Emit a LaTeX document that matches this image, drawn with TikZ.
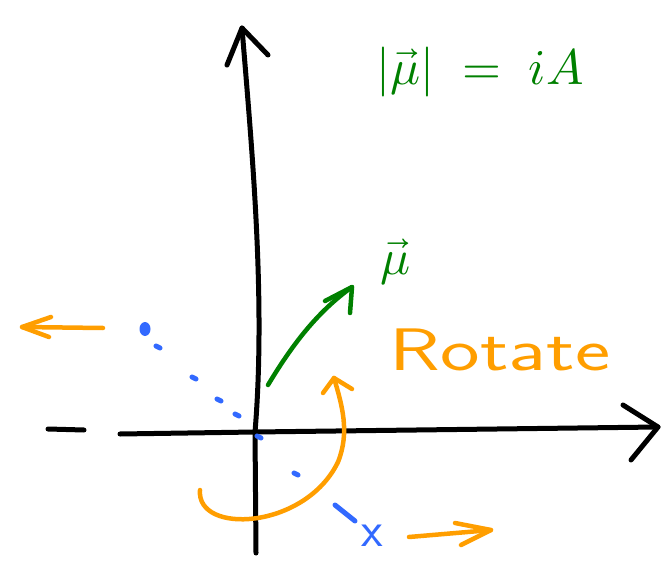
\documentclass[tikz,border=0pt]{standalone}
\usepackage{fontspec}
\usepackage{unicode-math}
\usetikzlibrary{calc}
\definecolor{inkgreen}{RGB}{0,128,0}
\definecolor{inkorange}{RGB}{255,158,0}
\definecolor{inkblue}{RGB}{50,105,255}

\begin{document}
\begin{tikzpicture}[x=1pt, y=-1pt,
    axis/.style={draw=black, line width=5pt, line cap=round, line join=round},
    greenpen/.style={draw=inkgreen, line width=4.5pt, line cap=round, line join=round},
    orangepen/.style={draw=inkorange, line width=4.5pt, line cap=round, line join=round},
    bluepen/.style={draw=inkblue, line width=5pt, line cap=round},
    ink/.style={inner sep=0pt, font=\sffamily}
  ]
    \useasboundingbox (0,0) rectangle (671,561);

    % axes
    \coordinate (o) at (255,432);
    \coordinate (ytop) at (242,28);
    \coordinate (ybot) at (256,553);
    \coordinate (xleft) at (120,434);
    \coordinate (xright) at (658,427);
    \draw[axis] (ybot) -- (o) .. controls (266,300) and (252,150) .. (ytop);
    \draw[axis] (ytop) ++(-15,37) -- (ytop) -- ++(26,27);
    \draw[axis] (xleft) -- (o) -- (xright);
    \draw[axis] (xright) ++(-35,-22) -- (xright) -- ++(-27,33);
    \draw[axis] (48,429) -- (84,430);

    % magnetic moment
    \coordinate (mutip) at (352,287);
    \draw[greenpen] (268,385) .. controls (295,340) and (320,310) .. (mutip);
    \draw[greenpen] (mutip) ++(-27,14) -- (mutip) -- ++(-2,26);
    \node[ink, text=inkgreen, font=\fontsize{50}{50}\selectfont] (mulabel) at (396,262) {$\vec{\mu}$};
    \node[ink, text=inkgreen, font=\fontsize{50}{50}\selectfont] (magnitude) at (480,72) {$|\vec{\mu}| \;=\; iA$};

    % rotation
    \node[ink, text=inkorange, font=\sffamily\fontsize{60}{60}\selectfont] (rotate) at (500,350) {\scalebox{1.4}[1]{Rotate}};
    \coordinate (rottip) at (334,378);
    \draw[orangepen] (200,490) .. controls (196,535) and (305,530) .. (338,462)
      .. controls (350,432) and (342,405) .. (rottip);
    \draw[orangepen] (rottip) ++(-11,15) -- (rottip) -- ++(18,11);

    \coordinate (lefttip) at (22,327);
    \draw[orangepen] (103,328) -- (lefttip);
    \draw[orangepen] (lefttip) ++(29,-10) -- (lefttip) -- ++(27,10);

    \coordinate (righttip) at (491,530);
    \draw[orangepen] (409,537) -- (righttip);
    \draw[orangepen] (righttip) ++(-36,-7) -- (righttip) -- ++(-30,15);

    % rotation axis
    \fill[inkblue] (145,329) ellipse (5.5pt and 7pt);
    \foreach \a/\b in {156/346, 192/377, 217/399, 235/414, 257/436, 294/473} {
      \draw[bluepen] (\a,\b) -- ++(4,2);
    }
    \draw[bluepen] (335,505) -- (355,521);
    \node[ink, text=inkblue, font=\sffamily\fontsize{50}{50}\selectfont] (xlabel) at (372,536) {x};
  \end{tikzpicture}
\end{document}
